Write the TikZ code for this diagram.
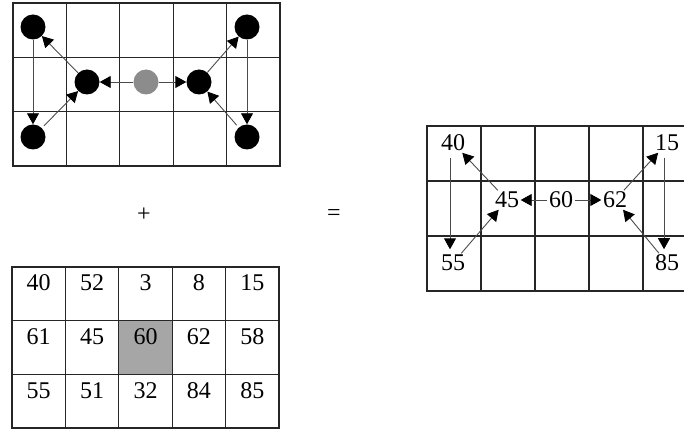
\documentclass[tikz,border=0pt]{standalone}
\usepackage{fontspec}
\setmainfont{Liberation Serif}
\usetikzlibrary{arrows.meta}

\begin{document}
\begin{tikzpicture}[x=1pt,y=-1pt,>={Triangle[length=11pt,width=12pt,color=black]},
  ln/.style={line width=1.2pt,draw=black!85},
  dot/.style={circle,fill=black,minimum size=25pt,inner sep=0pt},
  num/.style={font=\fontsize{24}{27}\selectfont,inner sep=1.5pt},
  ar/.style={->,line width=0.9pt,draw=black!70}]
  \useasboundingbox (0,0) rectangle (684,430);
  \clip (0,0) rectangle (684,430);
  % pattern grid
  \draw[ln] (13,3) rectangle (280,166);
  \foreach \i in {1,...,4} \draw[ln] ({13+53.4*\i},3) -- ({13+53.4*\i},166);
  \foreach \j in {1,2} \draw[ln] (13,{3+54.3*\j}) -- (280,{3+54.3*\j});
  \node[dot] (tl) at (33,27) {};
  \node[dot] (bl) at (33,137) {};
  \node[dot] (ml) at (87,82) {};
  \node[dot,fill=black!45] (mid) at (146,82) {};
  \node[dot] (mr) at (199,82) {};
  \node[dot] (tr) at (247,27) {};
  \node[dot] (br) at (247,137) {};
  \draw[ar] (mid) -- (ml);
  \draw[ar] (mid) -- (mr);
  \draw[ar] (ml) -- (tl);
  \draw[ar] (tl) -- (bl);
  \draw[ar,shorten <=3pt] (bl) -- (ml);
  \draw[ar] (mr) -- (tr);
  \draw[ar] (tr) -- (br);
  \draw[ar,shorten <=3pt] (br) -- (mr);
  % operators
  \node[num] (plus) at (144,215) {+};
  \node[num] (eq) at (334,215) {=};
  % value grid
  \fill[black!35] (118.8,320.7) rectangle (172.2,374.4);
  \draw[ln] (12,267) rectangle (279,428);
  \foreach \i in {1,...,4} \draw[ln] ({12+53.4*\i},267) -- ({12+53.4*\i},428);
  \foreach \j in {1,2} \draw[ln] (12,{267+53.7*\j}) -- (279,{267+53.7*\j});
  \foreach \v [count=\k from 0] in {40,52,3,8,15,61,45,60,62,58,55,51,32,84,85}
    \node[num] (v\k) at ({12+53.4*(mod(\k,5)+0.5)},{283+53.7*int(\k/5)}) {\v};
  % result grid
  \draw[ln] (427,126) rectangle (697,291);
  \foreach \i in {1,...,4} \draw[ln] ({427+54*\i},126) -- ({427+54*\i},291);
  \foreach \j in {1,2} \draw[ln] (427,{126+55*\j}) -- (697,{126+55*\j});
  \node[num] (r40) at (453,143) {40};
  \node[num] (r55) at (453,263) {55};
  \node[num] (r45) at (507,200) {45};
  \node[num] (r60) at (561,200) {60};
  \node[num] (r62) at (615,200) {62};
  \node[num] (r15) at (667,143) {15};
  \node[num] (r85) at (667,263) {85};
  \draw[ar] (r60) -- (r45);
  \draw[ar] (r60) -- (r62);
  \draw[ar] (r45) -- (r40);
  \draw[ar] (r55) -- (r45);
  \draw[ar] (r62) -- (r15);
  \draw[ar] (r85) -- (r62);
  \draw[ar,shorten <=5pt,shorten >=4pt] ([xshift=-3pt]r40.south) -- ([xshift=-3pt]r55.north);
  \draw[ar,shorten <=5pt,shorten >=4pt] ([xshift=-3pt]r15.south) -- ([xshift=-3pt]r85.north);
\end{tikzpicture}
\end{document}
